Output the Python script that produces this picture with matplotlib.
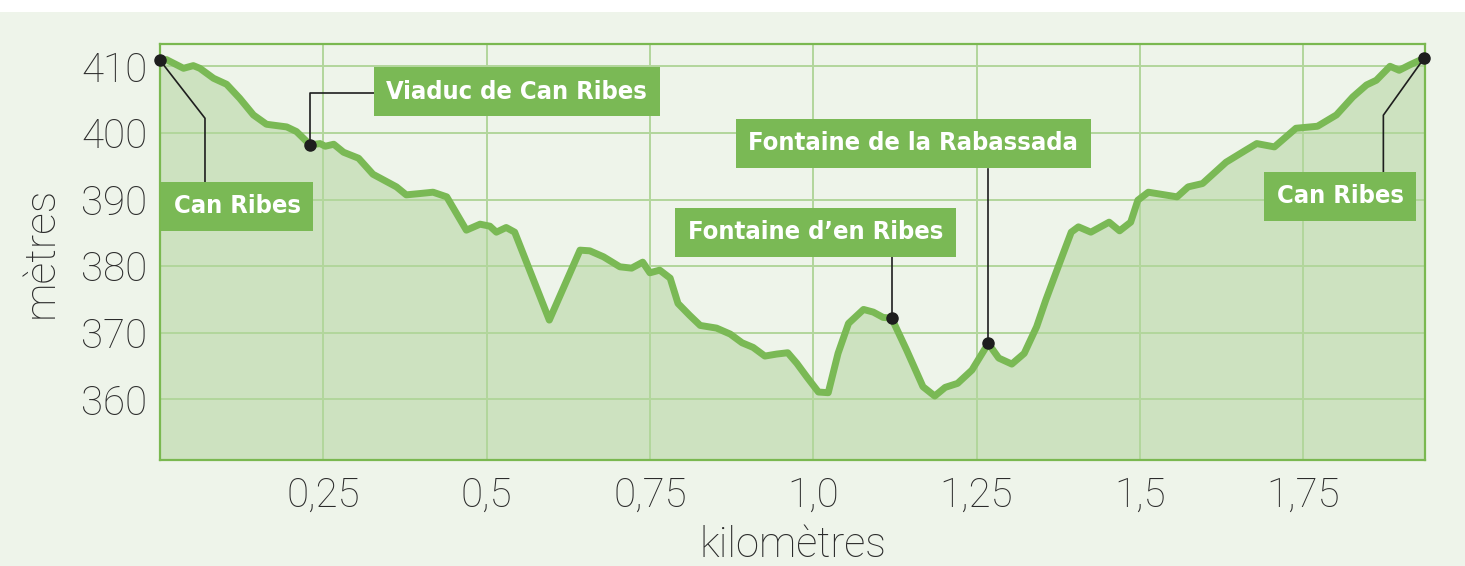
#!/usr/bin/env python3
import matplotlib
matplotlib.use('Agg')
import matplotlib.pyplot as plt
import matplotlib.font_manager as fm
from matplotlib.patches import Rectangle

# Elevation profile (km, metres)
km = [0.000, 0.010, 0.036, 0.051, 0.061, 0.082, 0.102, 0.122, 0.143, 0.163,
      0.194, 0.209, 0.230, 0.245, 0.253, 0.266, 0.281, 0.304, 0.326, 0.362,
      0.377, 0.398, 0.418, 0.439, 0.454, 0.469, 0.490, 0.505, 0.515, 0.530,
      0.543, 0.596, 0.643, 0.658, 0.679, 0.704, 0.722, 0.739, 0.750, 0.765,
      0.781, 0.793, 0.811, 0.827, 0.852, 0.873, 0.891, 0.908, 0.926, 0.944,
      0.961, 0.975, 0.990, 1.008, 1.023, 1.038, 1.054, 1.077, 1.092, 1.107,
      1.120, 1.143, 1.168, 1.186, 1.202, 1.221, 1.243, 1.268, 1.284, 1.304,
      1.323, 1.342, 1.356, 1.375, 1.395, 1.406, 1.425, 1.453, 1.469, 1.486,
      1.497, 1.513, 1.557, 1.574, 1.596, 1.632, 1.662, 1.679, 1.706, 1.739,
      1.772, 1.801, 1.826, 1.847, 1.862, 1.883, 1.897, 1.913, 1.935]
metres = [410.9, 411.0, 409.7, 410.1, 409.7, 408.2, 407.3, 405.2, 402.7, 401.3,
          400.9, 400.2, 398.2, 398.4, 398.0, 398.3, 397.1, 396.2, 393.8, 391.9,
          390.7, 390.9, 391.1, 390.4, 387.9, 385.4, 386.3, 386.0, 385.1, 385.8,
          385.1, 371.9, 382.4, 382.3, 381.4, 379.9, 379.7, 380.6, 379.0, 379.4,
          378.2, 374.4, 372.6, 371.1, 370.7, 369.8, 368.5, 367.8, 366.5, 366.8,
          367.0, 365.4, 363.4, 361.1, 361.0, 366.9, 371.4, 373.5, 373.1, 372.3,
          372.2, 367.4, 361.9, 360.5, 361.8, 362.4, 364.4, 368.4, 366.2, 365.3,
          366.9, 370.9, 374.9, 379.9, 385.1, 385.9, 385.1, 386.6, 385.3, 386.6,
          389.9, 391.1, 390.4, 391.9, 392.4, 395.6, 397.4, 398.4, 397.9, 400.7,
          401.0, 402.7, 405.4, 407.2, 407.9, 410.0, 409.4, 410.2, 411.2]

# Landmarks
place_names = ['Can Ribes', 'Viaduc de Can Ribes', 'Fontaine d\u2019en Ribes',
               'Fontaine de la Rabassada', 'Can Ribes']
place_km = [0.000, 0.230, 1.120, 1.268, 1.935]
place_m = [410.9, 398.2, 372.2, 368.4, 411.2]

x_ticks = [0.25, 0.5, 0.75, 1.0, 1.25, 1.5, 1.75]
x_labels = ['0,25', '0,5', '0,75', '1,0', '1,25', '1,5', '1,75']
y_ticks = [360, 370, 380, 390, 400, 410]

BG = '#eef4ea'
FILL = '#cde2c0'
LINE = '#7ab955'
GRID = '#b2d69b'
BOX = '#7ab955'
INK = '#2b2b2b'


# pick a narrow bold face for the labels if one is installed
def narrow_bold():
    best = None
    for f in fm.fontManager.ttflist:
        narrow = (f.stretch in ('condensed', 'semi-condensed', 'extra-condensed',
                                'ultra-condensed')
                  or 'Narrow' in f.name or 'Condensed' in f.name)
        w = f.weight if isinstance(f.weight, int) else fm.weight_dict.get(f.weight, 400)
        if narrow and f.style == 'normal':
            score = abs(w - 700)
            if best is None or score < best[0]:
                best = (score, f.fname)
    if best is not None:
        return fm.FontProperties(fname=best[1])
    return fm.FontProperties(family=['DejaVu Sans'], weight='bold')


label_font = narrow_bold()

fig = plt.figure(figsize=(14.65, 5.66), dpi=100)
fig.patch.set_facecolor('white')
fig.patches.append(Rectangle((0, 0), 1, 1 - 12 / 566, transform=fig.transFigure,
                             facecolor=BG, edgecolor='none', zorder=-10))
ax = fig.add_axes([0.1092, 0.1873, 0.8637, 0.7344])
ax.set_facecolor(BG)

ax.set_xlim(0, 1.937)
ax.set_ylim(350.9, 413.3)

# Zeichnen
ax.fill_between(km, metres, 350.9, color=FILL, linewidth=0, zorder=1)
ax.plot(km, metres, color=LINE, lw=5, solid_joinstyle='round',
        solid_capstyle='round', zorder=3)

# Grid between fill and line
ax.set_axisbelow('line')
ax.grid(color=GRID, lw=1.4)
ax.set_xticks(x_ticks)
ax.set_xticklabels(x_labels)
ax.set_yticks(y_ticks)
ax.tick_params(length=0, labelsize=29, labelcolor=INK)
ax.tick_params(axis='x', pad=12)
ax.tick_params(axis='y', pad=9)
for lab in ax.get_xticklabels() + ax.get_yticklabels():
    lab.set_family(['Roboto', 'DejaVu Sans'])
    lab.set_fontweight('light')

for s in ax.spines.values():
    s.set_color('#7ab850')
    s.set_linewidth(1.6)

ax.set_xlabel('kilom\u00e8tres', fontsize=30, color=INK, labelpad=7,
              family=['Roboto', 'DejaVu Sans'], fontweight='light')
ax.set_ylabel('m\u00e8tres', fontsize=31, color=INK, labelpad=14,
              family=['Roboto', 'DejaVu Sans'], fontweight='light')

# size the label font so the longest label is ~330 px wide
renderer = fig.canvas.get_renderer()
probe = fig.text(0, 0, 'Fontaine de la Rabassada', fontproperties=label_font,
                 fontsize=24)
w24 = probe.get_window_extent(renderer).width
h24 = probe.get_window_extent(renderer).height
probe.remove()
fsize = min(26, 24 * 330 / w24)
text_h = h24 * fsize / 24
pad = max(0.05, (50 - text_h) / 2 / (fsize * 100 / 72))

# Labels: anchor point (px-derived, data units), alignment, leader polyline
box_xy = [(0.1184, 388.97), (0.3276, 406.15), (1.0034, 385.06),
          (1.1534, 398.45), (1.807, 390.46)]
box_ha = ['center', 'left', 'center', 'center', 'center']
leaders = [
    [(0.0689, 392.6), (0.0689, 402.2)],
    [(0.3276, 406.06), (0.230, 406.06)],
    [(1.120, 381.3)],
    [(1.268, 394.55)],
    [(1.8728, 394.2), (1.8728, 402.66)],
]

for name, px, py, (bx, by), ha, lead in zip(place_names, place_km, place_m,
                                            box_xy, box_ha, leaders):
    xs = [p[0] for p in lead] + [px]
    ys = [p[1] for p in lead] + [py]
    ax.plot(xs, ys, color='#1e1e1e', lw=1.2, zorder=4, clip_on=False)
    ax.plot(px, py, 'o', color='#1e1e1e', ms=8, zorder=6, clip_on=False)
    t = ax.text(bx, by, name, ha=ha, va='center', color='white',
                fontproperties=label_font, zorder=5,
                bbox=dict(boxstyle='square,pad=%.3f' % pad, facecolor=BOX,
                          edgecolor='none'))
    t.set_fontsize(fsize)
    if ha == 'left':
        # shift so the box edge (not the text edge) sits on the leader
        from matplotlib.transforms import offset_copy
        t.set_transform(offset_copy(ax.transData, fig=fig,
                                    x=pad * fsize, y=0, units='points'))

fig.savefig('out.png', dpi=100, facecolor=fig.get_facecolor())
